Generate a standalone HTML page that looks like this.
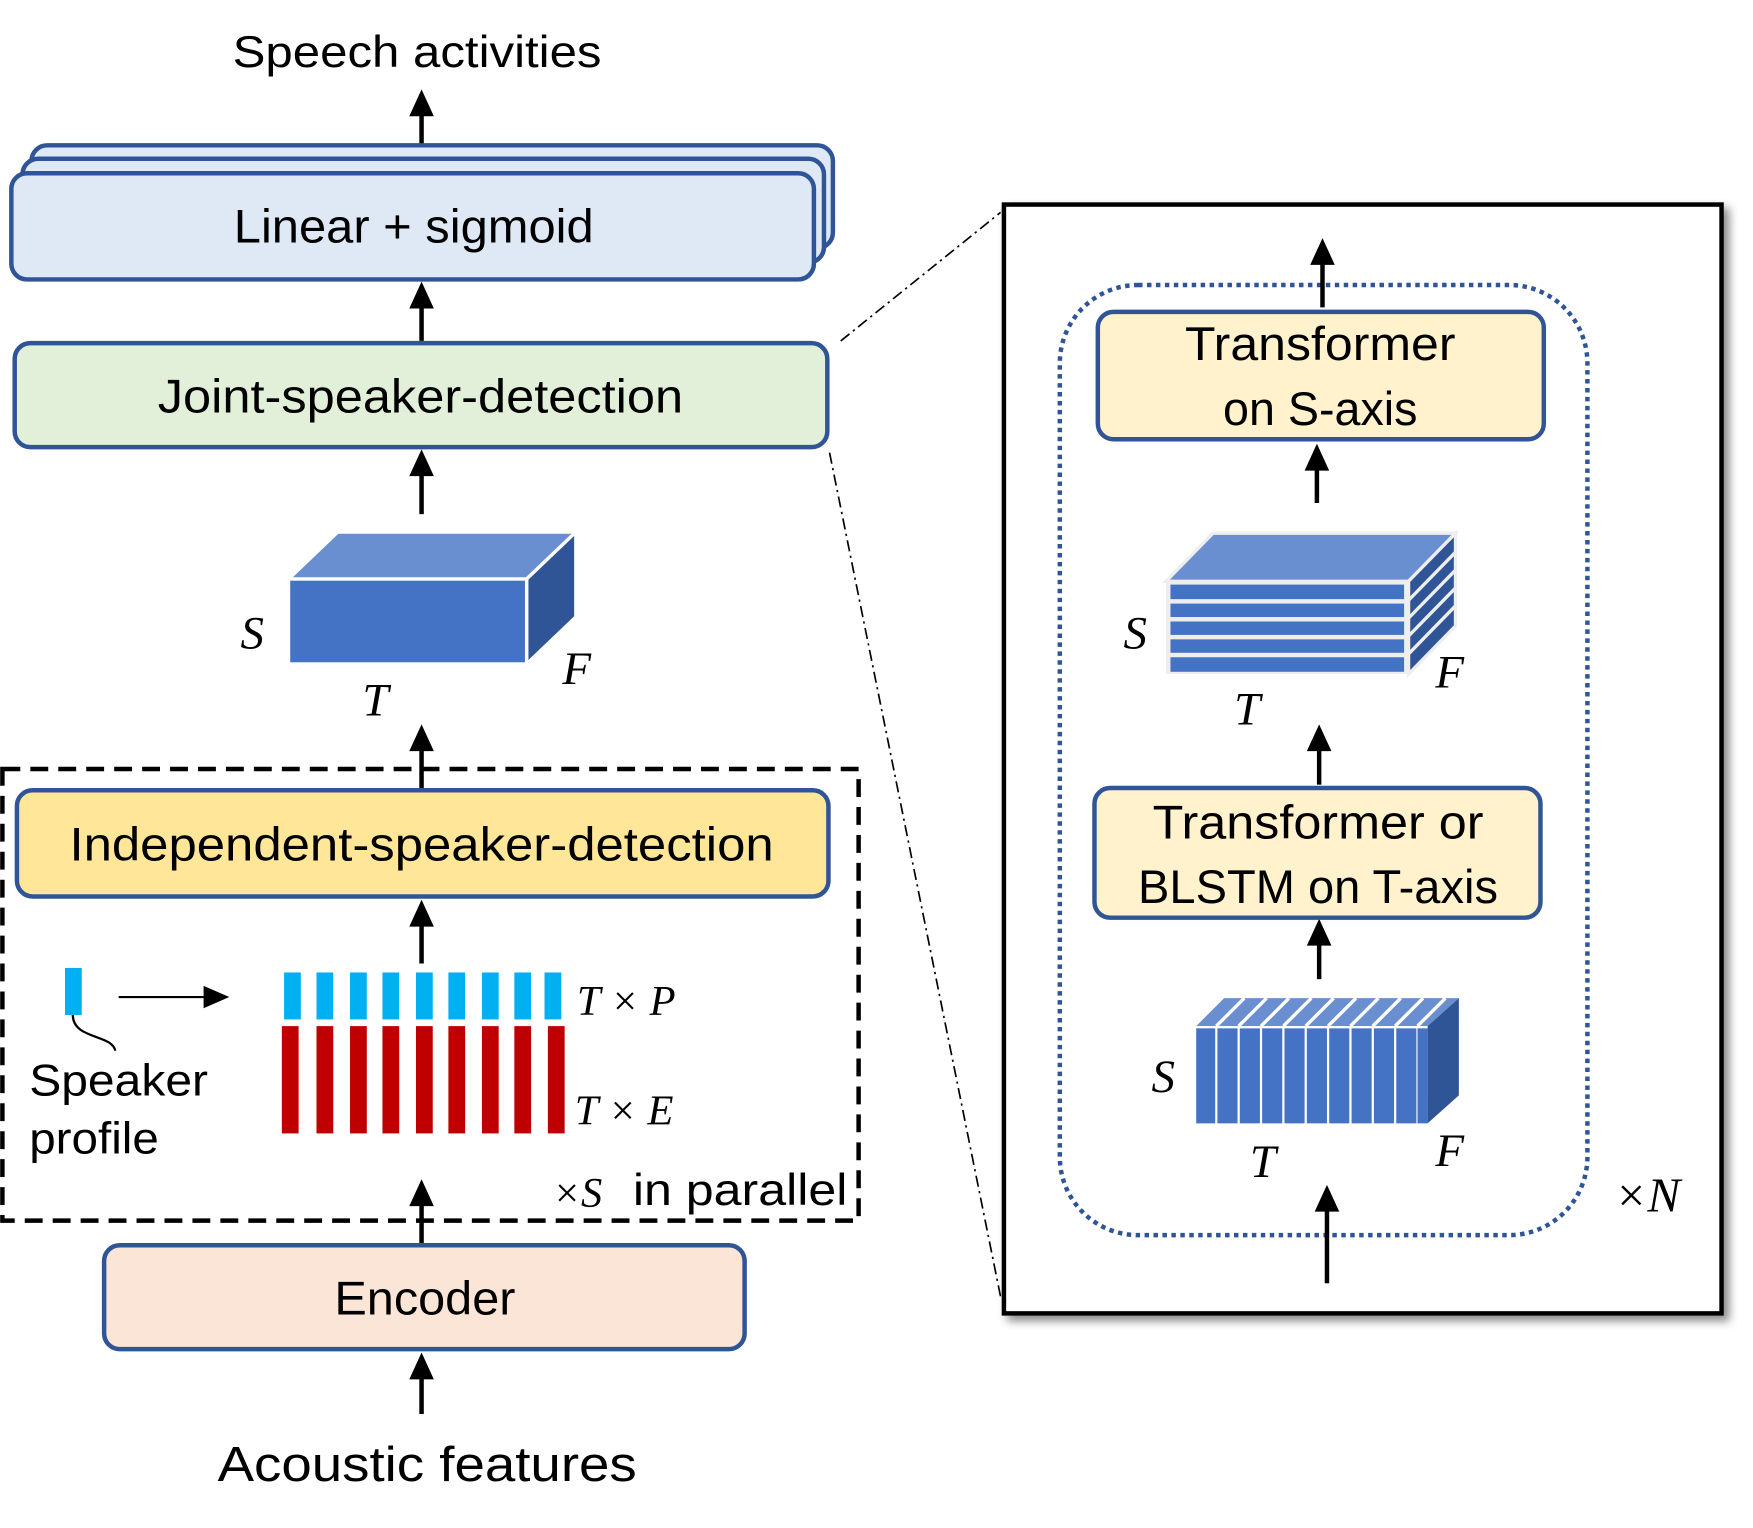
<!DOCTYPE html>
<html><head><meta charset="utf-8"><style>html,body{margin:0;padding:0;background:#fff}svg{display:block}</style></head>
<body>
<svg width="1753" height="1528" viewBox="0 0 1568 1367" xmlns="http://www.w3.org/2000/svg" font-family="Liberation Sans, sans-serif">
<defs>
<filter id="sh" x="-5%" y="-5%" width="115%" height="115%"><feDropShadow dx="5" dy="5" stdDeviation="4" flood-color="#000" flood-opacity="0.45"/></filter>
</defs>
<g fill="#000">
<path d="M377,140 V102" stroke="#000" stroke-width="4"/><path d="M366,104 L377,80 L388,104z"/>
<path d="M377,305 V274" stroke="#000" stroke-width="4"/><path d="M366,276 L377,252 L388,276z"/>
<path d="M377,460 V424" stroke="#000" stroke-width="4"/><path d="M366,426 L377,402 L388,426z"/>
<path d="M377,705 V670" stroke="#000" stroke-width="4"/><path d="M366,672 L377,648 L388,672z"/>
<path d="M377,862 V827" stroke="#000" stroke-width="4"/><path d="M366,829 L377,805 L388,829z"/>
<path d="M377,1112 V1077" stroke="#000" stroke-width="4"/><path d="M366,1079 L377,1055 L388,1079z"/>
<path d="M377,1265 V1232" stroke="#000" stroke-width="4"/><path d="M366,1234 L377,1210 L388,1234z"/>
</g>
<text x="373" y="60" font-size="40" text-anchor="middle" textLength="330" lengthAdjust="spacingAndGlyphs">Speech activities</text>
<rect x="28" y="130" width="717" height="92" rx="14" fill="#dfe9f5" stroke="#2f5597" stroke-width="4"/>
<rect x="20" y="142" width="717" height="93" rx="14" fill="#dfe9f5" stroke="#2f5597" stroke-width="4"/>
<rect x="10" y="155" width="718" height="95" rx="14" fill="#dfe9f5" stroke="#2f5597" stroke-width="4"/>
<text x="370" y="217" font-size="42" text-anchor="middle" textLength="322" lengthAdjust="spacingAndGlyphs">Linear + sigmoid</text>
<rect x="13" y="307" width="727" height="93" rx="14" fill="#e2efd9" stroke="#2f5597" stroke-width="4"/>
<text x="376" y="369" font-size="42" text-anchor="middle" textLength="470" lengthAdjust="spacingAndGlyphs">Joint-speaker-detection</text>
<path d="M258,518 L302,476 L515,476 L471,518z" fill="#6a8fd0" stroke="#fff" stroke-width="3"/>
<path d="M471,518 L515,476 L515,552 L471,594z" fill="#2f5597" stroke="#fff" stroke-width="3"/>
<rect x="258" y="518" width="213" height="76" fill="#4472c4" stroke="#fff" stroke-width="3"/>
<rect x="2" y="688" width="766" height="404" fill="none" stroke="#000" stroke-width="4" stroke-dasharray="16,9"/>
<rect x="15" y="707" width="726" height="95" rx="14" fill="#ffe699" stroke="#2f5597" stroke-width="4"/>
<text x="377" y="770" font-size="42" text-anchor="middle" textLength="630" lengthAdjust="spacingAndGlyphs">Independent-speaker-detection</text>
<rect x="58" y="866" width="15" height="42" fill="#00b0f0"/>
<path d="M65,908 C65,930 100,925 103,940" fill="none" stroke="#000" stroke-width="2"/>
<path d="M106,892 H185" stroke="#000" stroke-width="2"/><path d="M182,882 L205,892 L182,902z"/>
<text x="26" y="980" font-size="40" textLength="160" lengthAdjust="spacingAndGlyphs">Speaker</text>
<text x="26" y="1032" font-size="40" textLength="116" lengthAdjust="spacingAndGlyphs">profile</text>
<g fill="#00b0f0">
<rect x="254" y="870" width="15" height="42"/><rect x="283" y="870" width="15" height="42"/><rect x="313" y="870" width="15" height="42"/><rect x="342" y="870" width="15" height="42"/><rect x="372" y="870" width="15" height="42"/><rect x="401" y="870" width="15" height="42"/><rect x="431" y="870" width="15" height="42"/><rect x="460" y="870" width="15" height="42"/><rect x="487" y="870" width="15" height="42"/>
</g>
<g fill="#c00000">
<rect x="252" y="918" width="15" height="96"/><rect x="283" y="918" width="15" height="96"/><rect x="313" y="918" width="15" height="96"/><rect x="342" y="918" width="15" height="96"/><rect x="372" y="918" width="15" height="96"/><rect x="401" y="918" width="15" height="96"/><rect x="431" y="918" width="15" height="96"/><rect x="460" y="918" width="15" height="96"/><rect x="490" y="918" width="15" height="96"/>
</g>
<text x="566" y="1078" font-size="40" textLength="192" lengthAdjust="spacingAndGlyphs">in parallel</text>
<rect x="93" y="1114" width="573" height="93" rx="14" fill="#fbe5d6" stroke="#2f5597" stroke-width="4"/>
<text x="380" y="1176" font-size="42" text-anchor="middle" textLength="162" lengthAdjust="spacingAndGlyphs">Encoder</text>
<text x="382" y="1325" font-size="44" text-anchor="middle" textLength="375" lengthAdjust="spacingAndGlyphs">Acoustic features</text>
<path d="M752,305 L895,190 M742,405 L895,1160" stroke="#000" stroke-width="1.5" fill="none" stroke-dasharray="10,4,2,4"/>
<rect x="898" y="183" width="642" height="992" fill="#fff" stroke="#000" stroke-width="4" filter="url(#sh)"/>
<rect x="948" y="255" width="472" height="850" rx="70" fill="none" stroke="#2f5597" stroke-width="4" stroke-dasharray="4,4"/>
<g fill="#000">
<path d="M1183,275 V235" stroke="#000" stroke-width="4"/><path d="M1172,237 L1183,213 L1194,237z"/>
<path d="M1178,450 V419" stroke="#000" stroke-width="4"/><path d="M1167,421 L1178,397 L1189,421z"/>
<path d="M1180,702 V670" stroke="#000" stroke-width="4"/><path d="M1169,672 L1180,648 L1191,672z"/>
<path d="M1180,876 V844" stroke="#000" stroke-width="4"/><path d="M1169,846 L1180,822 L1191,846z"/>
<path d="M1187,1148 V1082" stroke="#000" stroke-width="4"/><path d="M1176,1084 L1187,1060 L1198,1084z"/>
</g>
<rect x="982" y="279" width="399" height="114" rx="14" fill="#fff2cc" stroke="#2f5597" stroke-width="4"/>
<text x="1181" y="322" font-size="42" text-anchor="middle" textLength="242" lengthAdjust="spacingAndGlyphs">Transformer</text>
<text x="1181" y="380" font-size="42" text-anchor="middle" textLength="174" lengthAdjust="spacingAndGlyphs">on S-axis</text>
<rect x="979" y="705" width="399" height="116" rx="14" fill="#fff2cc" stroke="#2f5597" stroke-width="4"/>
<text x="1179" y="750" font-size="42" text-anchor="middle" textLength="296" lengthAdjust="spacingAndGlyphs">Transformer or</text>
<text x="1179" y="808" font-size="42" text-anchor="middle" textLength="322" lengthAdjust="spacingAndGlyphs">BLSTM on T-axis</text>
<!-- striped cube -->
<path d="M1043,520 L1085,477 L1302,477 L1260,520z" fill="#6a8fd0" stroke="#eee" stroke-width="3"/>
<path d="M1260,520 L1302,477 L1302,560 L1260,603z" fill="#2f5597" stroke="#eee" stroke-width="3"/>
<g stroke="#eee" stroke-width="3">
<path d="M1260,537 L1302,494 M1260,553 L1302,510 M1260,569 L1302,526 M1260,585 L1302,542"/>
</g>
<rect x="1043" y="520" width="217" height="83" fill="#eee"/>
<g fill="#4472c4"><rect x="1047" y="523" width="209" height="13"/><rect x="1047" y="540" width="209" height="12"/><rect x="1047" y="556" width="209" height="12"/><rect x="1047" y="572" width="209" height="12"/><rect x="1047" y="588" width="209" height="13"/></g>
<!-- sliced cube -->
<path d="M1070,918 L1095,893 L1305,893 L1277,918z" fill="#6a8fd0"/>
<g stroke="#fff" stroke-width="3">
<path d="M1088,918 L1113,893 M1108,918 L1133,893 M1128,918 L1153,893 M1148,918 L1173,893 M1168,918 L1193,893 M1188,918 L1213,893 M1208,918 L1233,893 M1228,918 L1253,893 M1248,918 L1273,893 M1268,918 L1293,893"/>
</g>
<path d="M1277,918 L1305,893 L1305,980 L1277,1005z" fill="#2f5597"/>
<rect x="1070" y="918" width="207" height="87" fill="#fff"/>
<g fill="#4472c4"><rect x="1070" y="920" width="17" height="85"/><rect x="1089" y="920" width="18" height="85"/><rect x="1109" y="920" width="18" height="85"/><rect x="1129" y="920" width="18" height="85"/><rect x="1149" y="920" width="18" height="85"/><rect x="1169" y="920" width="18" height="85"/><rect x="1189" y="920" width="18" height="85"/><rect x="1209" y="920" width="18" height="85"/><rect x="1229" y="920" width="18" height="85"/><rect x="1249" y="920" width="18" height="85"/><rect x="1268" y="920" width="9" height="85"/></g>
<g font-family="Liberation Serif, serif" font-style="italic" font-size="42">
<text x="215" y="580">S</text><text x="503" y="612">F</text><text x="324" y="640">T</text>
<text x="1005" y="580">S</text><text x="1284" y="615">F</text><text x="1104" y="648">T</text>
<text x="1030" y="977">S</text><text x="1284" y="1043">F</text><text x="1118" y="1053">T</text>
<text x="516" y="908" font-size="38">T × P</text><text x="514" y="1006" font-size="38">T × E</text>
<text x="494" y="1080" font-size="38">×S</text>
<text x="1444" y="1084" font-size="44">×N</text>
</g>
</svg>
</body></html>
